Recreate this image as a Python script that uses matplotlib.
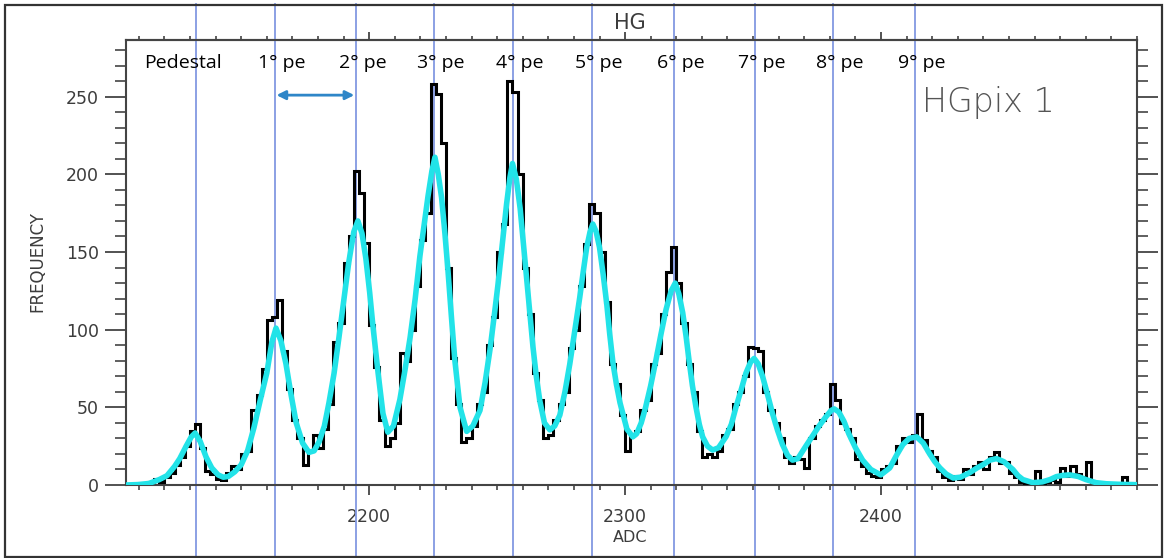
import numpy as np
import matplotlib
matplotlib.use("Agg")
import matplotlib.pyplot as plt
from matplotlib.patches import Rectangle
from matplotlib.ticker import MultipleLocator, FixedLocator

# histogram counts, 2 ADC bins starting at 2104 (one row = 20 ADC)
hist_counts = [
    0, 0, 0, 1, 0, 2, 4, 2, 5, 8,
    13, 18, 25, 35, 39, 24, 9, 7, 4, 3,
    8, 12, 10, 20, 22, 48, 58, 75, 106, 108,
    119, 86, 62, 42, 30, 13, 22, 32, 24, 36,
    52, 92, 104, 143, 160, 202, 188, 156, 103, 76,
    42, 25, 30, 40, 85, 80, 100, 128, 158, 175,
    258, 252, 220, 140, 82, 52, 28, 30, 38, 52,
    60, 90, 108, 150, 168, 260, 253, 200, 140, 110,
    72, 55, 30, 32, 42, 52, 60, 88, 100, 128,
    155, 181, 175, 150, 118, 78, 65, 45, 22, 32,
    35, 48, 55, 78, 85, 110, 137, 153, 130, 104,
    78, 60, 35, 18, 20, 18, 22, 32, 36, 52,
    60, 70, 89, 88, 86, 60, 48, 40, 30, 18,
    14, 18, 17, 11, 30, 38, 42, 46, 65, 55,
    40, 36, 30, 17, 12, 8, 6, 5, 10, 12,
    14, 25, 30, 28, 32, 46, 29, 22, 18, 9,
    5, 3, 6, 4, 10, 7, 12, 15, 10, 18,
    21, 14, 15, 8, 5, 2, 1, 0, 9, 1,
    2, 3, 2, 11, 6, 12, 7, 5, 15, 2,
    1, 1, 0, 0, 0, 5, 1, 0,
]
bin_start = 2104
bin_width = 2

# multi-peak fit (cyan)
fit_adc = [
    2105, 2110, 2114, 2118, 2121, 2124, 2126, 2128.5, 2130.5, 2132,
    2134, 2136.3, 2138.5, 2141, 2143, 2145, 2147.5, 2150, 2152.5, 2155,
    2157.5, 2160, 2162, 2163.6, 2165.5, 2167.5, 2169.5, 2171.5, 2174, 2176.5,
    2178.5, 2180.5, 2182.5, 2184.3, 2186.3, 2188.2, 2190.2, 2192, 2194, 2195.6,
    2197.2, 2198.7, 2200.2, 2201.5, 2203.5, 2205.4, 2207.3, 2209.5, 2212, 2214,
    2216, 2218, 2219.8, 2221.5, 2223, 2224.5, 2225.7, 2227, 2228.3, 2229.6,
    2230.8, 2232.2, 2233.5, 2235.5, 2238.1, 2240.5, 2243.3, 2245.3, 2247.2, 2248.8,
    2250.4, 2252, 2253.7, 2255, 2256, 2257.5, 2259, 2260.3, 2261.5, 2262.8,
    2264, 2265.3, 2266.7, 2268.5, 2270.6, 2272.5, 2274.5, 2276.5, 2278.4, 2280.3,
    2282.3, 2283.7, 2285, 2286.3, 2287.4, 2288.7, 2290, 2291.4, 2292.8, 2294,
    2295.3, 2296.7, 2298, 2300.7, 2303, 2304.5, 2306.3, 2308, 2310, 2312,
    2314, 2316, 2318, 2319.6, 2321, 2322.5, 2323.8, 2325, 2326.3, 2327.7,
    2329, 2330.3, 2332.2, 2334.2, 2336.5, 2339.4, 2341.5, 2343.3, 2345.3, 2347.2,
    2349, 2350.4, 2352, 2353.7, 2355.7, 2357.6, 2359.6, 2361.5, 2363.5, 2365.4,
    2367.5, 2370.6, 2373, 2375.8, 2378.5, 2380.5, 2381.7, 2383.5, 2385.5, 2387.4,
    2390, 2392.8, 2396, 2399.9, 2403.4, 2406, 2408.5, 2411, 2413.9, 2416.5,
    2419, 2421, 2423, 2425.5, 2428.2, 2431, 2434.7, 2437.5, 2439.8, 2442.5,
    2445.1, 2448, 2451.5, 2453.5, 2455.4, 2459.3, 2463, 2466, 2468.5, 2471,
    2473.7, 2477, 2480, 2484, 2488, 2494, 2500,
]
fit_freq = [
    0, 0.3, 1, 3.5, 6, 12, 17, 25, 31, 33.5,
    28, 18, 11, 6.5, 5, 5.5, 8.5, 13, 22, 37,
    55, 72, 92, 101, 93, 78, 58, 40, 27, 21,
    22, 28, 38, 53, 72, 95, 120, 143, 163, 170,
    162, 146, 124, 102, 72, 46, 34, 38, 55, 74,
    95, 120, 147, 168, 186, 202, 211, 200, 185, 162,
    138, 107, 80, 50, 34.5, 38, 48, 66, 87, 108,
    130, 155, 181, 198, 207, 197, 178, 155, 134, 111,
    89, 70, 54, 40, 35.5, 38, 45, 60, 78, 99,
    121, 138, 153, 163, 168, 163, 153, 136, 117, 97,
    78, 64, 53, 36, 31, 33, 40, 50, 64, 80,
    97, 113, 125, 130, 123, 111, 96, 80, 64, 50,
    39, 31, 25, 22.5, 24, 31, 39, 50, 61, 72,
    79, 81.5, 78, 70, 58, 46, 35, 26, 19, 16,
    17, 25, 31, 38, 44, 48, 49, 47, 41, 33,
    24, 16, 10, 6.5, 11, 19, 26, 30, 31, 27,
    20, 15, 11, 7, 4.5, 5, 8, 11, 13, 16,
    17, 15, 10, 6, 3.5, 1.5, 2, 3.5, 5.4, 6.2,
    6.5, 5.5, 3.5, 1.5, 0.8, 0.4, 0.2,
]

# peak positions (vertical lines) and their labels
pe_lines = [2132.3, 2163.2, 2194.8, 2225.3, 2256.2, 2287.0, 2319.1, 2350.7, 2381.2, 2413.2]
pe_labels = ["Pedestal", "1° pe", "2° pe", "3° pe", "4° pe",
             "5° pe", "6° pe", "7° pe", "8° pe", "9° pe"]

W, H = 1166, 558
fig = plt.figure(figsize=(W / 100, H / 100), dpi=100)
ax = fig.add_axes([126 / W, 1 - 485 / H, (1137 - 126) / W, (485 - 40) / H])

axcol = "#444444"
lblcol = "#3c3c3c"

edges = bin_start + bin_width * np.arange(len(hist_counts) + 1)
ax.stairs(hist_counts, edges, color="black", lw=2.2, zorder=3)
ax.plot(fit_adc, fit_freq, color="#22e3e8", lw=4, solid_capstyle="round", zorder=4)

for xl in pe_lines:
    ax.axvline(xl, ymin=-0.163, ymax=1.08, color="#8299e2", lw=1.3, clip_on=False, zorder=2)

for xl, lab in zip(pe_lines, pe_labels):
    if lab == "Pedestal":
        ax.text(xl - 5, 268.5, lab, ha="center", va="baseline", fontsize=14,
                family="Open Sans", color="#000000", zorder=5)
    else:
        ax.text(xl - 6.5, 268.5, lab, ha="left", va="baseline", fontsize=14,
                family="Open Sans", color="#000000", zorder=5)

ax.annotate("", xy=(pe_lines[2] - 0.6, 251), xytext=(pe_lines[1] + 0.6, 251),
            arrowprops=dict(arrowstyle="<|-|>", color="#2e86c8", lw=2,
                            mutation_scale=13, shrinkA=0, shrinkB=0), zorder=5)

ax.text(2415.9, 246, "HGpix 1", ha="left", va="center", fontsize=24,
        color="#555555", fontweight="light", family="DejaVu Sans")

ax.set_xlim(2105, 2500)
ax.set_ylim(0, 286.5)

ax.xaxis.set_major_locator(FixedLocator([2200, 2300, 2400]))
ax.xaxis.set_minor_locator(MultipleLocator(10))
ax.yaxis.set_major_locator(MultipleLocator(50))
ax.yaxis.set_minor_locator(MultipleLocator(10))

ax.tick_params(axis="x", which="major", direction="out", length=7.2, width=1.3,
               color=axcol, labelcolor=lblcol, labelsize=12.5, pad=9)
ax.tick_params(axis="x", which="minor", direction="out", length=3.6, width=1.2, color=axcol)
ax.tick_params(axis="y", which="major", direction="out", length=15, width=1.3,
               color=axcol, labelcolor=lblcol, labelsize=12.5, pad=4.5, right=True)
ax.tick_params(axis="y", which="minor", direction="out", length=8, width=1.2,
               color=axcol, right=True)

top = ax.secondary_xaxis("top")
top.xaxis.set_major_locator(FixedLocator([2200, 2300, 2400]))
top.xaxis.set_minor_locator(MultipleLocator(10))
top.tick_params(which="major", direction="out", length=5.8, width=1.3, color=axcol, labeltop=False)
top.tick_params(which="minor", direction="out", length=2.6, width=1.2, color=axcol)
top.spines["top"].set_color(axcol)
top.spines["top"].set_linewidth(1.5)

for s in ax.spines.values():
    s.set_color(axcol)
    s.set_linewidth(1.5)

fig.text(630 / W, 1 - 538 / H, "ADC", ha="center", va="center", fontsize=11.5, color=lblcol)
fig.text(37 / W, 1 - 262 / H, "FREQUENCY", ha="center", va="center", rotation=90,
         fontsize=12, color=lblcol)
fig.text(630 / W, 1 - 23 / H, "HG", ha="center", va="center", fontsize=15, color=lblcol)

fig.add_artist(Rectangle((5 / W, 1 - 557 / H), (1162 - 5) / W, (557 - 5) / H,
                         transform=fig.transFigure, fill=False, ec="#333333", lw=1.6))

fig.savefig("out.png", dpi=100)
